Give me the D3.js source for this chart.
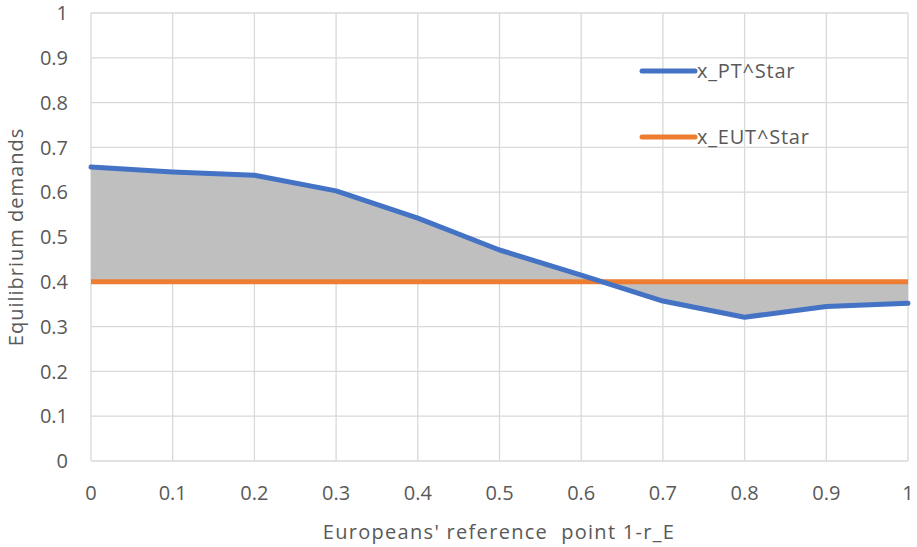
<!DOCTYPE html>
<html><head><meta charset="utf-8">
<script src="https://cdn.jsdelivr.net/npm/d3@7"></script>
<style>body{margin:0;background:#fff}svg text{font-family:"Open Sans",Lato,sans-serif;fill:#595959;white-space:pre}</style>
</head><body><svg id="c" width="917" height="547"></svg>
<script>
const xValues = [0,0.1,0.2,0.3,0.4,0.5,0.6,0.7,0.8,0.9,1];
const ptValues = [0.656,0.645,0.638,0.603,0.542,0.471,0.415,0.357,0.321,0.345,0.352];
const eutValues = [0.4,0.4,0.4,0.4,0.4,0.4,0.4,0.4,0.4,0.4,0.4];
const xTicks = [0,0.1,0.2,0.3,0.4,0.5,0.6,0.7,0.8,0.9,1];
const yTicks = [0,0.1,0.2,0.3,0.4,0.5,0.6,0.7,0.8,0.9,1];
const seriesNames = ["x_PT^Star","x_EUT^Star"];

const svg = d3.select("#c");
const L=91,R=908,T=13,B=461;
const x = d3.scaleLinear().domain([0,1]).range([L,R]);
const y = d3.scaleLinear().domain([0,1]).range([B,T]);
const fmt = d => d===0||d===1 ? String(d) : d.toFixed(1);

// grid
svg.append("g").selectAll("line").data(yTicks).join("line")
 .attr("x1",L).attr("x2",R).attr("y1",d=>y(d)).attr("y2",d=>y(d))
 .attr("stroke","#d9d9d9").attr("stroke-width",1.3);
svg.append("g").selectAll("line").data(xTicks).join("line")
 .attr("y1",T).attr("y2",B).attr("x1",d=>x(d)).attr("x2",d=>x(d))
 .attr("stroke","#d9d9d9").attr("stroke-width",1.3);

// area between
const data = xValues.map((v,i)=>({x:v,pt:ptValues[i],eut:eutValues[i]}));
svg.append("path").datum(data)
 .attr("d",d3.area().x(d=>x(d.x)).y0(d=>y(d.eut)).y1(d=>y(d.pt)))
 .attr("fill","#bfbfbf");

// lines
svg.append("path").datum(data)
 .attr("d",d3.line().x(d=>x(d.x)).y(d=>y(d.eut)))
 .attr("fill","none").attr("stroke","#ed7d31").attr("stroke-width",5);
svg.append("path").datum(data)
 .attr("d",d3.line().x(d=>x(d.x)).y(d=>y(d.pt)))
 .attr("fill","none").attr("stroke","#4472c4").attr("stroke-width",5).attr("stroke-linejoin","round").attr("stroke-linecap","round");

// ticks
svg.append("g").selectAll("text").data(yTicks).join("text")
 .attr("x",68).attr("y",d=>y(d)).attr("dy","0.36em").attr("text-anchor","end")
 .attr("font-size",20).text(fmt);
svg.append("g").selectAll("text").data(xTicks).join("text")
 .attr("x",d=>x(d)).attr("y",493).attr("dy","0.36em").attr("text-anchor","middle")
 .attr("font-size",20).text(fmt);

// axis titles
svg.append("text").attr("x",499).attr("y",532).attr("dy","0.36em").attr("text-anchor","middle")
 .attr("font-size",20).attr("letter-spacing",1.3).text("Europeans' reference  point 1-r_E");
svg.append("text").attr("transform","translate(16,237) rotate(-90)").attr("dy","0.36em").attr("text-anchor","middle")
 .attr("font-size",20).attr("letter-spacing",1).text("Equilibrium demands");

// legend
const leg = [{n:seriesNames[0],c:"#4472c4",y:71},{n:seriesNames[1],c:"#ed7d31",y:137}];
const lg = svg.append("g");
leg.forEach(d=>{
 lg.append("line").attr("x1",642).attr("x2",695).attr("y1",d.y).attr("y2",d.y)
  .attr("stroke",d.c).attr("stroke-width",5).attr("stroke-linecap","round");
 lg.append("text").attr("x",697).attr("y",d.y).attr("dy","0.36em").attr("font-size",20).attr("letter-spacing",0.8).text(d.n);
});
</script></body></html>
